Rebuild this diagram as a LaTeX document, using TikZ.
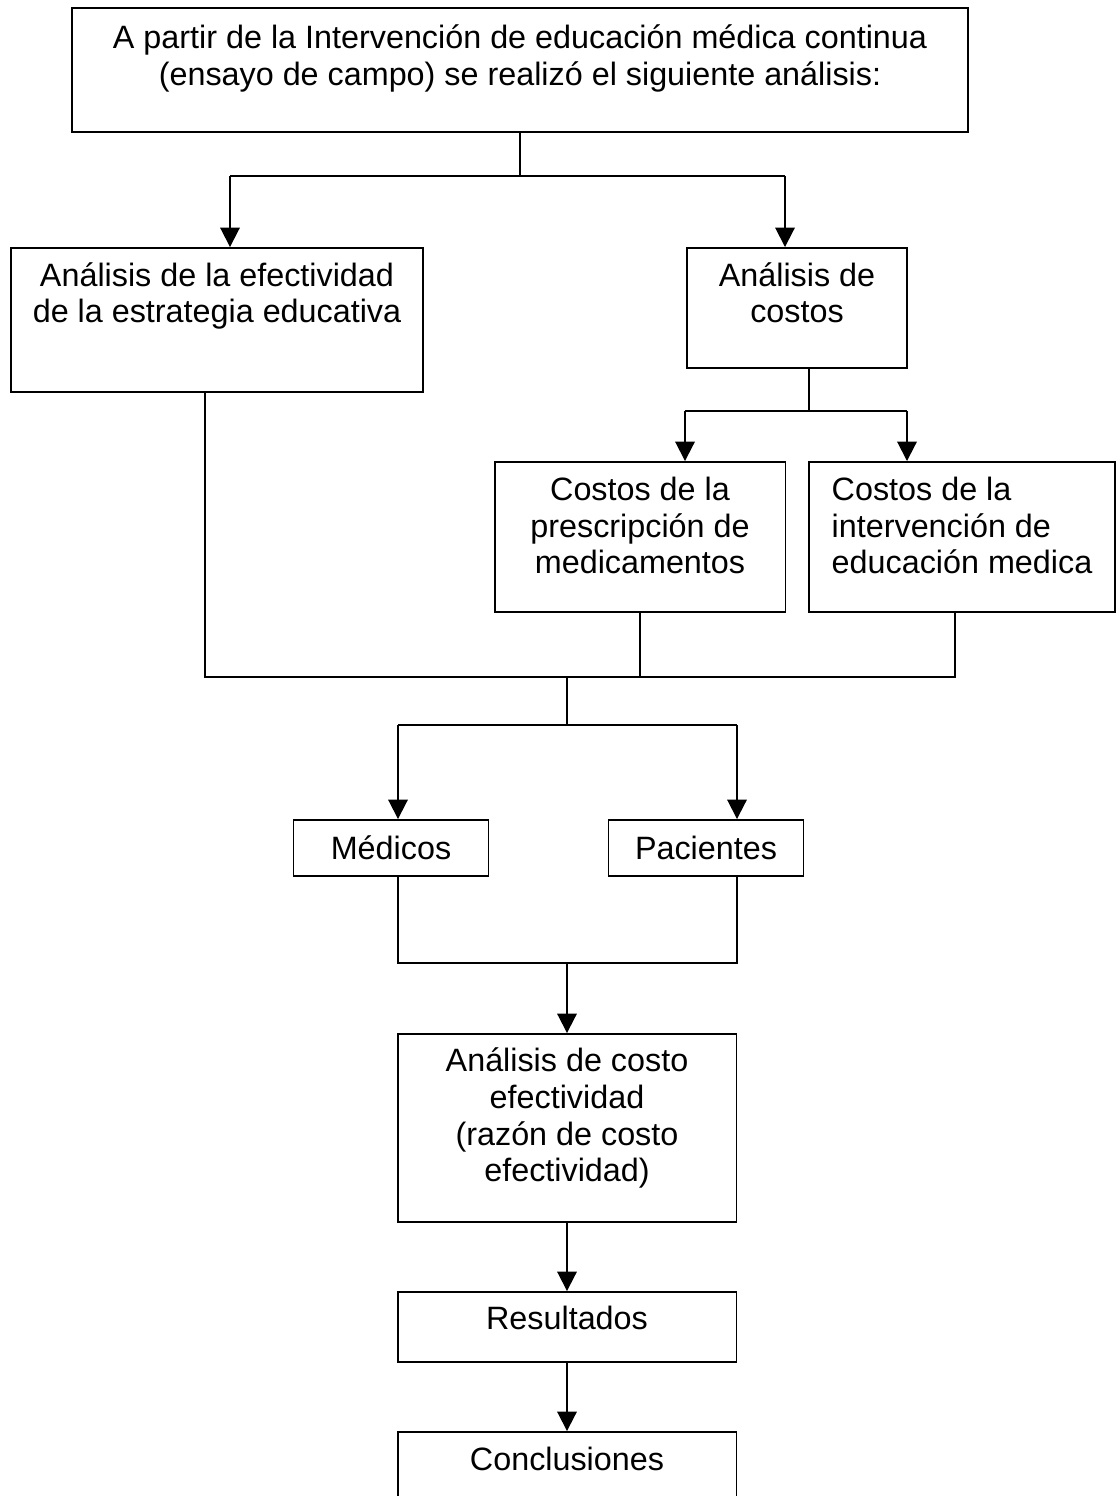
\documentclass[tikz,border=0pt]{standalone}
\usepackage{fontspec}
\setmainfont{Liberation Sans}
\usetikzlibrary{arrows.meta,positioning,calc}

\begin{document}
\begin{tikzpicture}[x=0.02cm, y=-0.02cm,
    caja/.style={rectangle, draw=black, line width=1.1pt, align=center,
                 font=\fontsize{18.4}{20.8}\selectfont, inner sep=0pt},
    flecha/.style={line width=1.1pt, -{Triangle[width=11pt,length=11pt]}},
    linea/.style={line width=1.1pt}
  ]
  \clip (0,0) rectangle (1117,1496);
  \fill[white] (0,0) rectangle (1117,1496);

  \node[caja, minimum width=17.92cm, minimum height=2.48cm, text depth=17pt] (top) at (520,70)
    {A partir de la Intervención de educación médica continua\\(ensayo de campo) se realizó el siguiente análisis:};
  \node[caja, minimum width=8.24cm, minimum height=2.88cm, text depth=31pt] (efect) at (217,320)
    {Análisis de la efectividad\\de la estrategia educativa};
  \node[caja, minimum width=4.4cm, minimum height=2.4cm, text depth=17.5pt] (costos) at (797,308)
    {Análisis de\\costos};
  \node[caja, minimum width=5.82cm, minimum height=3cm, text depth=13pt] (presc) at (640,537)
    {Costos de la\\prescripción de\\medicamentos};
  \node[caja, align=left, minimum width=6.12cm, minimum height=3cm, text depth=13pt] (interv) at (962,537)
    {Costos de la\\intervención de\\educación medica};
  \node[caja, minimum width=3.9cm, minimum height=1.12cm] (medicos) at (391,848) {Médicos};
  \node[caja, minimum width=3.9cm, minimum height=1.12cm] (pacientes) at (706,848) {Pacientes};
  \node[caja, minimum width=6.78cm, minimum height=3.76cm, text depth=15pt] (costoefect) at (567,1128)
    {Análisis de costo\\efectividad\\(razón de costo\\efectividad)};
  \node[caja, minimum width=6.78cm, minimum height=1.4cm, text depth=10pt] (result) at (567,1327) {Resultados};
  \node[caja, minimum width=6.78cm, minimum height=1.56cm, text depth=13.5pt] (conclus) at (567,1471) {Conclusiones};

  % ramas
  \coordinate (a1) at (230,176);
  \coordinate (a2) at (785,176);
  \draw[linea] (top.south) -- (top.south |- a1);
  \draw[flecha] (a1) -- (a1 |- efect.north);
  \draw[flecha] (a2) -- (a2 |- costos.north);
  \draw[linea] (a1) -- (a2);

  \coordinate (b0) at (809,411);
  \coordinate (b1) at (685,411);
  \coordinate (b2) at (907,411);
  \draw[linea] (b0 |- costos.south) -- (b0);
  \draw[linea] (b1) -- (b2);
  \draw[flecha] (b1) -- (b1 |- presc.north);
  \draw[flecha] (b2) -- (b2 |- interv.north);

  \coordinate (c0) at (567,677);
  \coordinate (c1) at (205,677);
  \coordinate (c2) at (955,677);
  \draw[linea] (c1 |- efect.south) -- (c1) -- (c2) -- (c2 |- interv.south);
  \draw[linea] (presc.south) -- (presc.south |- c0);

  \coordinate (d0) at (567,725);
  \coordinate (d1) at (398,725);
  \coordinate (d2) at (737,725);
  \draw[linea] (c0) -- (d0);
  \draw[linea] (d1) -- (d2);
  \draw[flecha] (d1) -- (d1 |- medicos.north);
  \draw[flecha] (d2) -- (d2 |- pacientes.north);

  \coordinate (e0) at (567,963);
  \coordinate (e1) at (398,963);
  \coordinate (e2) at (737,963);
  \draw[linea] (e1 |- medicos.south) -- (e1) -- (e2) -- (e2 |- pacientes.south);
  \draw[flecha] (e0) -- (e0 |- costoefect.north);

  \draw[flecha] (costoefect) -- (result);
  \draw[flecha] (result) -- (conclus);
\end{tikzpicture}
\end{document}
